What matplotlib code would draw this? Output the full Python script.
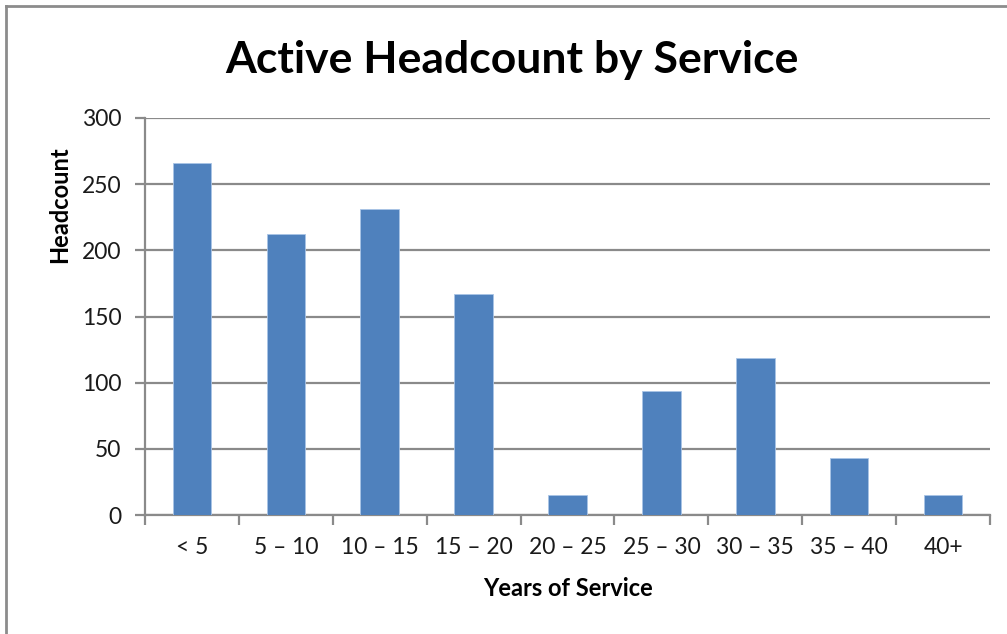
import matplotlib
matplotlib.use("Agg")
import matplotlib.pyplot as plt
import numpy as np
from matplotlib.lines import Line2D

categories = ["< 5", "5 \u2013 10", "10 \u2013 15", "15 \u2013 20", "20 \u2013 25",
              "25 \u2013 30", "30 \u2013 35", "35 \u2013 40", "40+"]
headcount = [266, 212, 231, 167, 15, 94, 119, 43, 15]
y_ticks = [0, 50, 100, 150, 200, 250, 300]

plt.rcParams['font.family'] = ['Lato', 'DejaVu Sans']

W, H = 1007, 634
fig = plt.figure(figsize=(W / 100, H / 100), dpi=100)
ax = fig.add_axes([145 / W, 1 - 515 / H, (990 - 145) / W, (515 - 118) / H])

grey = '#8a8a8a'
x = np.arange(len(categories))
ax.bar(x, headcount, width=0.41, color='#4f81bd', edgecolor='#a9c4e6',
       linewidth=0.6, zorder=3)

ax.set_xlim(-0.5, len(categories) - 0.5)
ax.set_ylim(0, 300)
ax.set_yticks(y_ticks)
ax.set_yticklabels([str(v) for v in y_ticks], fontsize=16.5, color='#1a1a1a')
ax.yaxis.grid(True, color=grey, linewidth=1.6, zorder=0)

# category labels centered, tick marks on category boundaries
ax.set_xticks(np.arange(-0.5, len(categories)))
ax.set_xticklabels([''] * (len(categories) + 1))
ax.set_xticks(x, minor=True)
ax.set_xticklabels(categories, minor=True, fontsize=16.5, color='#1a1a1a')
ax.tick_params(axis='x', which='minor', length=0, pad=16)
ax.tick_params(axis='x', which='major', length=7, width=1.6, color=grey)
ax.tick_params(axis='y', length=7, width=1.6, color=grey, pad=10)

for side in ['top', 'right']:
    ax.spines[side].set_visible(False)
for side in ['left', 'bottom']:
    ax.spines[side].set_color(grey)
    ax.spines[side].set_linewidth(1.6)

ax.set_xlabel("Years of Service", fontsize=17, fontweight='bold')
ax.xaxis.set_label_coords(0.5, -(589 - 515) / 397, transform=ax.transAxes)
ax.xaxis.label.set_va('center')
ax.set_ylabel("Headcount", fontsize=17, fontweight='bold')
ax.yaxis.set_label_coords(-(145 - 60) / 845, (515 - 205) / 397)
ax.yaxis.label.set_va('center')

fig.text(512 / W, 1 - 60 / H, "Active Headcount by Service", fontsize=32,
         fontweight='bold', ha='center', va='center')

# outer chart border (left and top visible)
fig.add_artist(Line2D([6 / W, 6 / W], [0, 1 - 6 / H], transform=fig.transFigure,
                      color='#8c8c8c', linewidth=2))
fig.add_artist(Line2D([6 / W, 1], [1 - 6 / H, 1 - 6 / H], transform=fig.transFigure,
                      color='#8c8c8c', linewidth=2))

fig.savefig("out.png", dpi=100, facecolor='white')
